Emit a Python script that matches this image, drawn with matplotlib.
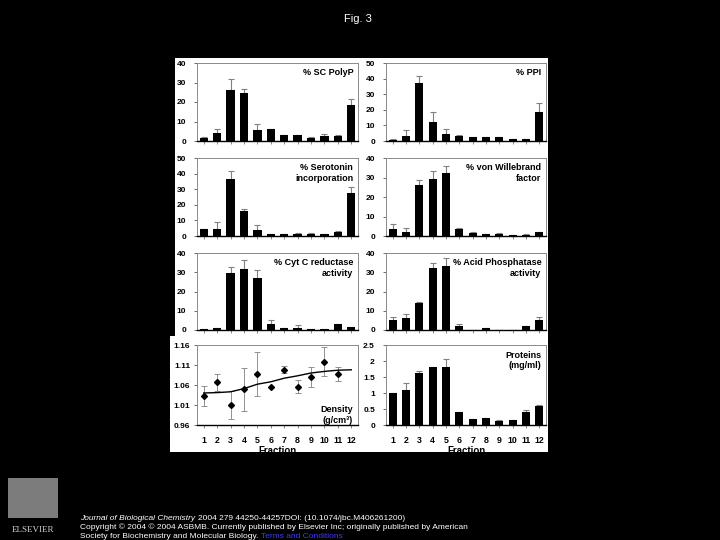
import matplotlib
matplotlib.use("Agg")
import matplotlib.pyplot as plt
import numpy as np
from matplotlib.patches import Rectangle

plt.rcParams["font.family"] = ["Liberation Sans", "DejaVu Sans"]

W, H = 720, 540

# ---------------------------------------------------------------------------
# Data
# ---------------------------------------------------------------------------
fractions = list(range(1, 13))

sc_polyp = [1.5, 4.0, 26.0, 24.5, 5.5, 6.0, 3.0, 3.2, 1.5, 2.8, 2.8, 18.5]
sc_polyp_err = [0.7, 2.0, 6.0, 2.0, 3.0, 0.3, 0, 0, 0.7, 0.8, 0.5, 3.0]

ppi = [0.5, 3.0, 37.0, 12.5, 4.5, 3.5, 2.5, 2.5, 2.5, 1.5, 1.5, 18.5]
ppi_err = [0.7, 4.0, 4.5, 6.0, 3.0, 0.2, 0, 0, 0.3, 0, 0, 6.0]

serotonin = [4.5, 4.5, 36.5, 16.0, 4.0, 1.5, 1.2, 1.2, 1.2, 1.2, 2.5, 27.5]
serotonin_err = [0, 4.5, 5.0, 1.5, 3.0, 0, 0, 0.5, 1.0, 0, 0.5, 4.0]

vwf = [3.5, 2.0, 26.0, 29.0, 32.5, 3.5, 1.5, 1.2, 1.2, 0.5, 0.5, 1.8]
vwf_err = [2.5, 2.0, 2.5, 4.5, 3.5, 0.5, 0.3, 0, 0.3, 0, 0.5, 0.3]

cytc = [0.7, 1.0, 29.5, 31.5, 27.0, 3.0, 1.0, 1.2, 0.3, 0.3, 3.0, 1.5]
cytc_err = [0, 0, 3.0, 5.0, 4.0, 2.0, 0, 1.3, 0, 0, 0.3, 0]

acid_p = [5.0, 6.0, 14.0, 32.0, 33.0, 2.0, 0.2, 1.0, 0.1, 0.1, 2.0, 5.0]
acid_p_err = [2.0, 2.5, 0.3, 3.0, 4.5, 1.0, 0, 0, 0, 0, 0, 2.0]

proteins = [1.0, 1.08, 1.62, 1.8, 1.8, 0.4, 0.18, 0.22, 0.14, 0.15, 0.42, 0.6]
proteins_err = [0, 0.22, 0.08, 0, 0.27, 0, 0, 0, 0.02, 0.02, 0.05, 0.02]

density_x = [1, 2, 3, 4, 5, 6, 7, 8, 9, 10, 11]
density = [1.032, 1.067, 1.010, 1.049, 1.087, 1.056, 1.098, 1.056, 1.081, 1.118, 1.088]
density_err = [0.025, 0.021, 0.036, 0.053, 0.055, 0.0, 0.009, 0.017, 0.025, 0.036, 0.017]
density_fit = [1.040, 1.041, 1.043, 1.051, 1.062, 1.068, 1.077, 1.083, 1.090, 1.094, 1.097, 1.098]


def px_box(x0, y0, x1, y1):
    return [x0 / W, 1 - y1 / H, (x1 - x0) / W, (y1 - y0) / H]


def style_axes(ax, ylim, yticks, ytlabels=None):
    ax.set_xlim(0.5, 12.5)
    ax.set_ylim(*ylim)
    ax.set_yticks(yticks)
    if ytlabels is not None:
        ax.set_yticklabels(ytlabels)
    for s in ("top", "right", "left"):
        ax.spines[s].set_color("#8a8a8a")
        ax.spines[s].set_linewidth(0.7)
    ax.spines["bottom"].set_color("black")
    ax.spines["bottom"].set_linewidth(1.0)
    ax.tick_params(axis="y", length=2, width=0.6, color="#555555",
                   labelsize=6, pad=6)
    ax.tick_params(axis="x", length=2, width=0.6, color="#777777",
                   labelsize=6.3, pad=6)
    for lab in ax.get_yticklabels() + ax.get_xticklabels():
        lab.set_fontweight("bold")
    ax.set_xticks(fractions)


def bar_panel(ax, vals, errs, ylim, yticks, label, bottom_row=False, ytlabels=None):
    ax.bar(fractions, vals, width=0.62, color="black", zorder=2)
    ax.errorbar(fractions, vals, yerr=[np.zeros(len(errs)), errs], fmt="none",
                ecolor="#808080", elinewidth=0.8, capsize=2, capthick=0.8, zorder=1)
    style_axes(ax, ylim, yticks, ytlabels)
    if not bottom_row:
        ax.set_xticklabels([])
    else:
        ax.set_xlabel("Fraction", fontsize=7, fontweight="bold", labelpad=1)
    ax.text(0.97, 0.93, label, transform=ax.transAxes, ha="right", va="top",
            fontsize=6.5, fontweight="bold", linespacing=1.25)


fig = plt.figure(figsize=(W / 100, H / 100), dpi=100, facecolor="black")
# white backing of the figure panels (bottom row sits a bit further left)
fig.patches.append(Rectangle((175 / W, 1 - 452 / H), (548 - 175) / W, (452 - 58) / H,
                             transform=fig.transFigure, facecolor="white",
                             edgecolor="none", zorder=-5))
fig.patches.append(Rectangle((170 / W, 1 - 452 / H), 10 / W, (452 - 336) / H,
                             transform=fig.transFigure, facecolor="white",
                             edgecolor="none", zorder=-5))

fig.text(358 / W, 1 - 19 / H, "Fig. 3", color="white", fontsize=8,
         ha="center", va="center")

lc = (197, 358)
rc = (386, 546)
rows = [(63, 141), (158, 236), (253, 330), (345, 425)]

ax = fig.add_axes(px_box(lc[0], rows[0][0], lc[1], rows[0][1]))
bar_panel(ax, sc_polyp, sc_polyp_err, (0, 40), [0, 10, 20, 30, 40], "% SC PolyP")

ax = fig.add_axes(px_box(rc[0], rows[0][0], rc[1], rows[0][1]))
bar_panel(ax, ppi, ppi_err, (0, 50), [0, 10, 20, 30, 40, 50], "% PPI")

ax = fig.add_axes(px_box(lc[0], rows[1][0], lc[1], rows[1][1]))
bar_panel(ax, serotonin, serotonin_err, (0, 50), [0, 10, 20, 30, 40, 50],
          "% Serotonin\nincorporation")

ax = fig.add_axes(px_box(rc[0], rows[1][0], rc[1], rows[1][1]))
bar_panel(ax, vwf, vwf_err, (0, 40), [0, 10, 20, 30, 40],
          "% von Willebrand\nfactor")

ax = fig.add_axes(px_box(lc[0], rows[2][0], lc[1], rows[2][1]))
bar_panel(ax, cytc, cytc_err, (0, 40), [0, 10, 20, 30, 40],
          "% Cyt C reductase\nactivity")

ax = fig.add_axes(px_box(rc[0], rows[2][0], rc[1], rows[2][1]))
bar_panel(ax, acid_p, acid_p_err, (0, 40), [0, 10, 20, 30, 40],
          "% Acid Phosphatase\nactivity")

# density panel
ax = fig.add_axes(px_box(lc[0], rows[3][0], lc[1], rows[3][1]))
ax.errorbar(density_x, density, yerr=density_err, fmt="none", ecolor="#909090",
            elinewidth=0.7, capsize=2, capthick=0.7, zorder=1)
ax.plot(fractions, density_fit, color="black", linewidth=1.0, zorder=2)
ax.plot(density_x, density, linestyle="none", marker="D", markersize=3.0,
        color="black", zorder=3)
style_axes(ax, (0.96, 1.16), [0.96, 1.01, 1.06, 1.11, 1.16],
           ["0.96", "1.01", "1.06", "1.11", "1.16"])
ax.tick_params(axis="y", pad=3)
ax.set_xlabel("Fraction", fontsize=7, fontweight="bold", labelpad=1)
ax.text(0.97, 0.25, "Density\n(g/cm\u00b3)", transform=ax.transAxes, ha="right",
        va="top", fontsize=6.5, fontweight="bold", linespacing=1.25)

ax = fig.add_axes(px_box(rc[0], rows[3][0], rc[1], rows[3][1]))
bar_panel(ax, proteins, proteins_err, (0, 2.5), [0, 0.5, 1, 1.5, 2, 2.5],
          "Proteins\n(mg/ml)", bottom_row=True,
          ytlabels=["0", "0.5", "1", "1.5", "2", "2.5"])

# footer
fig.patches.append(Rectangle((8 / W, 1 - 518 / H), 50 / W, 40 / H,
                             transform=fig.transFigure, facecolor="#7c7c7c",
                             edgecolor="none"))
fig.text(33 / W, 1 - 530 / H, "ELSEVIER", color="#d0d0d0", fontsize=6.5,
         family="Liberation Serif", ha="center", va="center")

foot = dict(color="white", fontsize=6.0, va="center")
j = fig.text(80 / W, 1 - 518 / H, "Journal of Biological Chemistry ",
             style="italic", ha="left", **foot)
fig.add_artist(matplotlib.text.Annotation(
    "2004 279 44250-44257DOI: (10.1074/jbc.M406261200)", xy=(1.0, 0.5),
    xycoords=j, ha="left", **foot))
fig.text(80 / W, 1 - 527 / H,
         "Copyright \u00a9 2004 \u00a9 2004 ASBMB. Currently published by Elsevier Inc; "
         "originally published by American", ha="left", **foot)
s = fig.text(80 / W, 1 - 536 / H,
             "Society for Biochemistry and Molecular Biology. ", ha="left", **foot)
fig.add_artist(matplotlib.text.Annotation(
    "Terms and Conditions", xy=(1.0, 0.5), xycoords=s, ha="left", va="center",
    color="#3a3aff", fontsize=6.0))

fig.savefig("out.png", dpi=100, facecolor="black")
